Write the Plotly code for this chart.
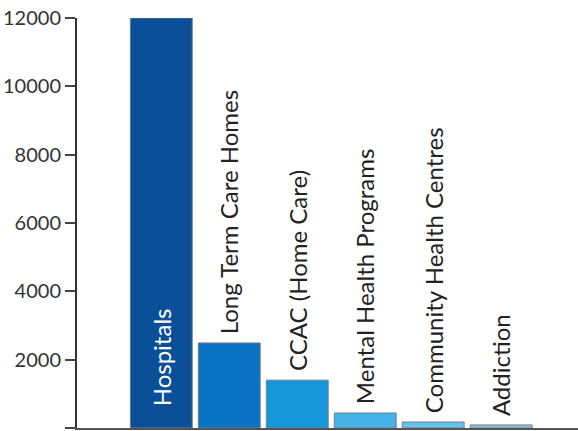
import plotly.graph_objects as go

categories = ["Hospitals", "Long Term Care Homes", "CCAC (Home Care)",
              "Mental Health Programs", "Community Health Centres", "Addiction"]
values = [12000, 2490, 1400, 440, 175, 90]
colors = ["#0b4f98", "#0a72c2", "#1597da", "#45b3e8", "#66c3ef", "#93c2dd"]
tick_vals = [0, 2000, 4000, 6000, 8000, 10000, 12000]
tick_text = ["0", "2000", "4000", "6000", "8000", "10000", "12000"]

xs = list(range(len(categories)))
FONT = "Lato, 'Open Sans', sans-serif"

fig = go.Figure(go.Bar(
    x=xs, y=values, width=0.91,
    marker=dict(color=colors, line=dict(color="#6f7f8c", width=1)),
    hoverinfo="skip",
))

annotations = []
for i, (c, v) in enumerate(zip(categories, values)):
    if i == 0:
        annotations.append(dict(x=i, y=0, text=c, textangle=-90, showarrow=False,
                                xanchor="center", yanchor="bottom", yshift=20,
                                font=dict(color="white", size=24, family=FONT)))
    else:
        annotations.append(dict(x=i, y=v, text=c, textangle=-90, showarrow=False,
                                xanchor="center", yanchor="bottom", yshift=7,
                                font=dict(color="#222222", size=24, family=FONT)))

fig.update_layout(
    width=578, height=431,
    margin=dict(l=77, r=0, t=18, b=3),
    paper_bgcolor="white", plot_bgcolor="white",
    showlegend=False,
    annotations=annotations,
    font=dict(family=FONT, size=20, color="#333333"),
    xaxis=dict(range=[-1.24, 6.13], showticklabels=False, ticks="",
               showgrid=False, zeroline=False, showline=True,
               linecolor="#555555", linewidth=2),
    yaxis=dict(range=[0, 12000], tickvals=tick_vals, ticktext=tick_text,
               ticks="outside", ticklen=10, tickwidth=2, tickcolor="#444444",
               showgrid=False, zeroline=False, showline=True,
               linecolor="#333333", linewidth=2,
               tickfont=dict(size=20, color="#333333", family=FONT)),
)

fig.write_html("out.html")
